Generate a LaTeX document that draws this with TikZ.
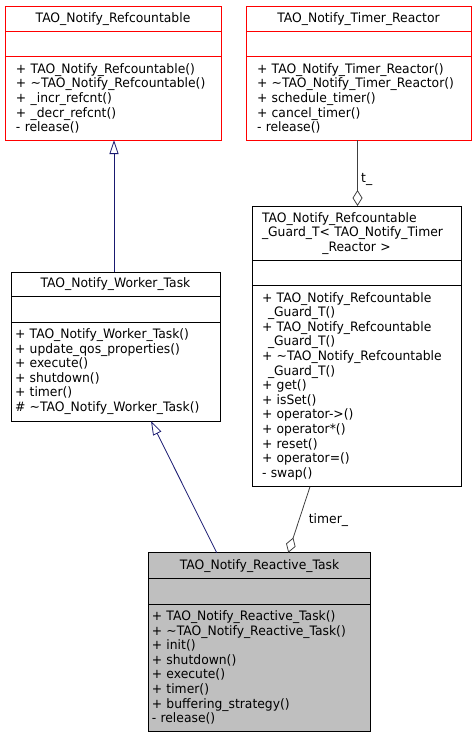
\documentclass[tikz,border=0pt]{standalone}
\usepackage{fontspec}
\setmainfont{DejaVu Sans}[FakeStretch=0.95]
\usetikzlibrary{positioning,arrows.meta}
\definecolor{umlred}{RGB}{255,0,0}
\definecolor{umlnavy}{RGB}{25,25,112}
\definecolor{umlgray}{RGB}{64,64,64}
\definecolor{umlfill}{RGB}{191,191,191}
\begin{document}
\begin{tikzpicture}[
  x=1pt, y=-1pt,
  font=\fontsize{13pt}{14.6pt}\selectfont,
  part/.style={draw, line width=0.8pt, outer sep=0pt, inner ysep=0pt, anchor=north west},
  ops/.style={part, align=left},
  inh/.style={-{Triangle[open, length=14pt, width=9pt]}, draw=umlnavy, line width=0.8pt},
  agg/.style={-{Diamond[open, length=16pt, width=10pt]}, draw=umlgray, line width=0.8pt}
]
\useasboundingbox (0,0) rectangle (476,739);

% base classes
\node[part, draw=umlred, minimum width=216pt, minimum height=25.7pt] (refc) at (5,6) {TAO\_Notify\_Refcountable};
\node[part, draw=umlred, minimum width=216pt, minimum height=25pt, below=0pt of refc] (refc-attr) {};
\node[ops, draw=umlred, text width=194pt, inner xsep=11pt, minimum height=83.3pt, below=0pt of refc-attr] (refc-ops)
  {+ TAO\_Notify\_Refcountable()\\+ \textasciitilde TAO\_Notify\_Refcountable()\\+ \_incr\_refcnt()\\+ \_decr\_refcnt()\\- release()};

\node[part, draw=umlred, minimum width=225pt, minimum height=25.7pt] (timer) at (246,6) {TAO\_Notify\_Timer\_Reactor};
\node[part, draw=umlred, minimum width=225pt, minimum height=25pt, below=0pt of timer] (timer-attr) {};
\node[ops, draw=umlred, text width=203pt, inner xsep=11pt, minimum height=83.3pt, below=0pt of timer-attr] (timer-ops)
  {+ TAO\_Notify\_Timer\_Reactor()\\+ \textasciitilde TAO\_Notify\_Timer\_Reactor()\\+ schedule\_timer()\\+ cancel\_timer()\\- release()};

% guard
\node[ops, text width=189pt, inner xsep=10pt, minimum height=54.7pt] (guard) at (252,206)
  {TAO\_Notify\_Refcountable\\\_Guard\_T< TAO\_Notify\_Timer\\\makebox[189pt]{\_Reactor >}};
\node[part, minimum width=209pt, minimum height=25pt, below=0pt of guard] (guard-attr) {};
\node[ops, text width=189pt, inner xsep=10pt, minimum height=201pt, below=0pt of guard-attr] (guard-ops)
  {+ TAO\_Notify\_Refcountable\\\hspace*{6pt}\_Guard\_T()\\+ TAO\_Notify\_Refcountable\\\hspace*{6pt}\_Guard\_T()\\+ \textasciitilde TAO\_Notify\_Refcountable\\\hspace*{6pt}\_Guard\_T()\\+ get()\\+ isSet()\\+ operator->()\\+ operator*()\\+ reset()\\+ operator=()\\- swap()};

% worker
\node[part, minimum width=209pt, minimum height=24.4pt] (worker) at (11,272.3) {TAO\_Notify\_Worker\_Task};
\node[part, minimum width=209pt, minimum height=25.6pt, below=0pt of worker] (worker-attr) {};
\node[ops, text width=201pt, inner xsep=4pt, minimum height=98.7pt, below=0pt of worker-attr] (worker-ops)
  {+ TAO\_Notify\_Worker\_Task()\\+ update\_qos\_properties()\\+ execute()\\+ shutdown()\\+ timer()\\\# \textasciitilde TAO\_Notify\_Worker\_Task()};

% reactive task
\node[part, fill=umlfill, minimum width=222.4pt, minimum height=26pt] (reactive) at (148.3,552.7) {TAO\_Notify\_Reactive\_Task};
\node[part, fill=umlfill, minimum width=222.4pt, minimum height=25.3pt, below=0pt of reactive] (reactive-attr) {};
\node[ops, fill=umlfill, text width=215.4pt, inner xsep=3.5pt, minimum height=127pt, below=0pt of reactive-attr] (reactive-ops)
  {+ TAO\_Notify\_Reactive\_Task()\\+ \textasciitilde TAO\_Notify\_Reactive\_Task()\\+ init()\\+ shutdown()\\+ execute()\\+ timer()\\+ buffering\_strategy()\\- release()};

\draw[inh] ([xshift=-1.5pt]worker.north) -- ([xshift=1pt]refc-ops.south);
\draw[inh] ([xshift=-42.8pt]reactive.north) -- ([xshift=35.5pt]worker-ops.south);
\draw[agg] ([xshift=-1pt]timer-ops.south) -- ([xshift=1pt]guard.north) node[pos=0.6, right] (t-lbl) {t\_};
\draw[agg] ([xshift=-46.5pt]guard-ops.south) -- ([xshift=28.8pt]reactive.north) node[pos=0.5, right=6pt] (timer-lbl) {timer\_};
\end{tikzpicture}
\end{document}
